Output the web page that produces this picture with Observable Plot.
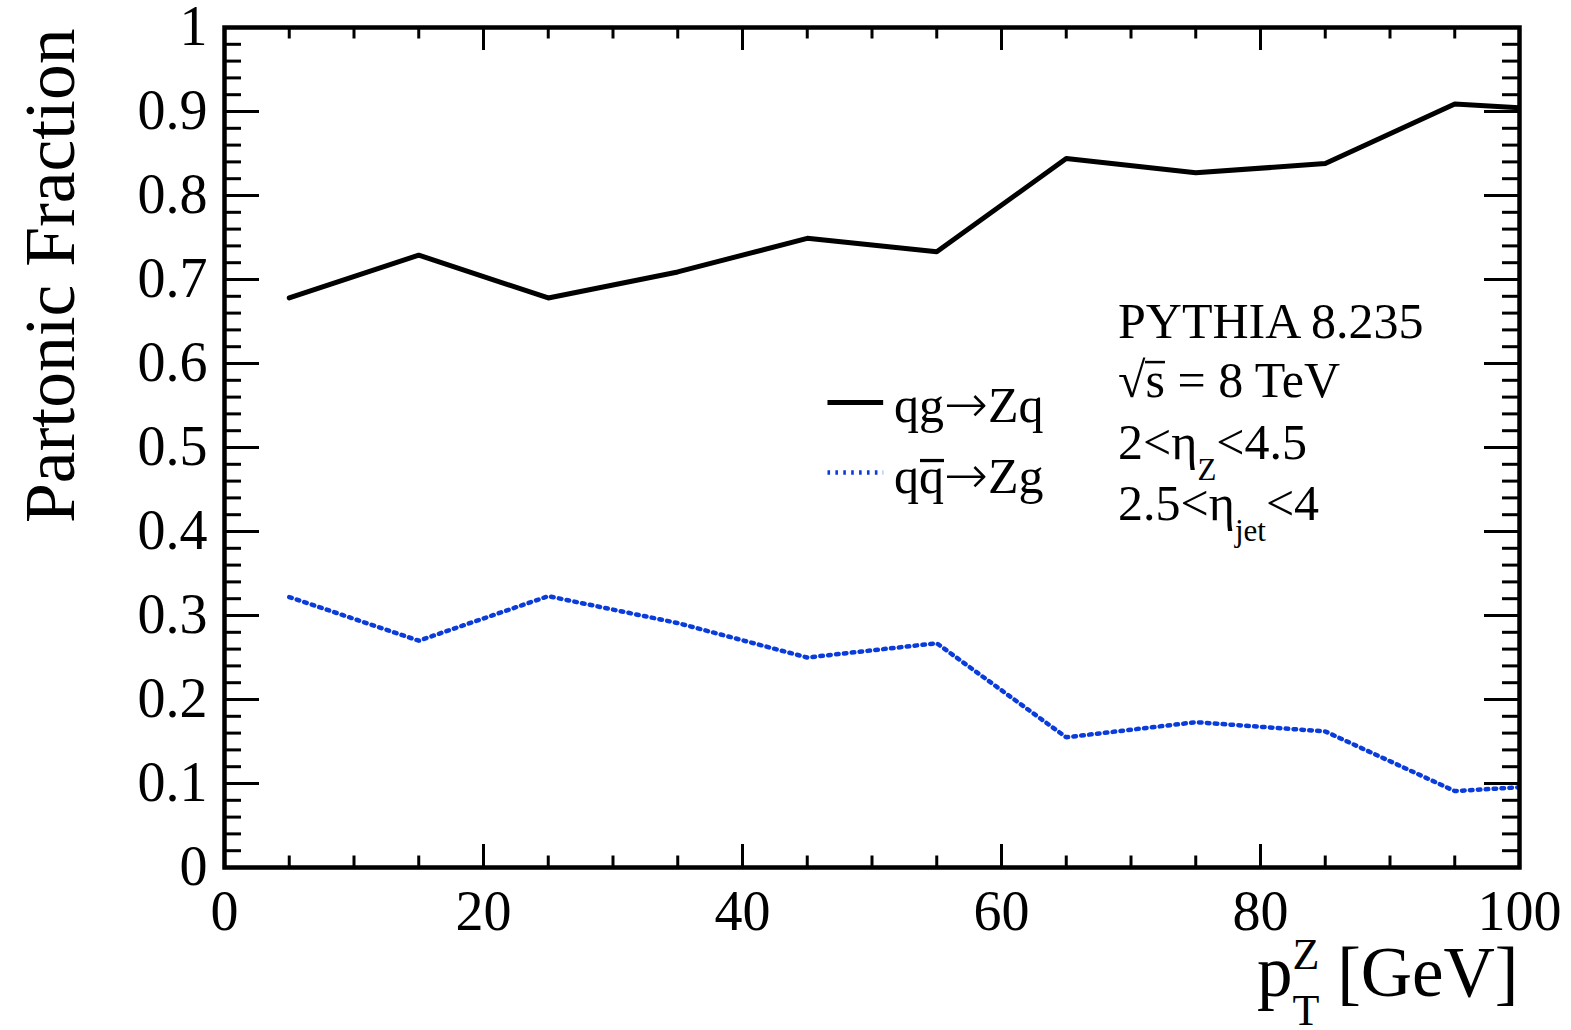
<!DOCTYPE html>
<html>
<head>
<meta charset="utf-8">
<script src="https://cdn.jsdelivr.net/npm/d3@7"></script>
<script src="https://cdn.jsdelivr.net/npm/@observablehq/plot@0.6"></script>
<style>
  html, body { margin: 0; padding: 0; background: #fff; }
  #chart svg { display: block; }
</style>
</head>
<body>
<div id="chart"></div>
<script>
// Partonic subprocess fractions of Z+jet production versus the Z transverse momentum.
const ptBinCenters   = [5, 15, 25, 35, 45, 55, 65, 75, 85, 95, 105];
const qgFraction     = [0.678, 0.729, 0.678, 0.709, 0.749, 0.733, 0.844, 0.827, 0.838, 0.909, 0.900];
const qqbarFraction  = [0.322, 0.270, 0.323, 0.291, 0.250, 0.267, 0.155, 0.173, 0.162, 0.091, 0.100];

const xMajorTicks = [0, 20, 40, 60, 80, 100];
const xTickLabels = ["0", "20", "40", "60", "80", "100"];
const xMinorTicks = [0, 5, 10, 15, 20, 25, 30, 35, 40, 45, 50, 55, 60, 65, 70, 75, 80, 85, 90, 95, 100];
const yMajorTicks = [0, 0.1, 0.2, 0.3, 0.4, 0.5, 0.6, 0.7, 0.8, 0.9, 1];
const yTickLabels = ["0", "0.1", "0.2", "0.3", "0.4", "0.5", "0.6", "0.7", "0.8", "0.9", "1"];
const yMinorTicks = [0, 0.02, 0.04, 0.06, 0.08, 0.1, 0.12, 0.14, 0.16, 0.18, 0.2, 0.22, 0.24, 0.26, 0.28,
  0.3, 0.32, 0.34, 0.36, 0.38, 0.4, 0.42, 0.44, 0.46, 0.48, 0.5, 0.52, 0.54, 0.56, 0.58, 0.6, 0.62, 0.64,
  0.66, 0.68, 0.7, 0.72, 0.74, 0.76, 0.78, 0.8, 0.82, 0.84, 0.86, 0.88, 0.9, 0.92, 0.94, 0.96, 0.98, 1];

const seriesNames  = ["qg→Zq", "qq̄→Zg"];
const legendLabels = ["qg→Zq", "q#bar{q}→Zg"];
const legendRowY   = [0.5536, 0.4702];
const infoLines    = ["PYTHIA 8.235", "#sqrt{s} = 8 TeV", "2<η_{Z}<4.5", "2.5<η_{jet}<4"];
const infoLineY    = [0.630, 0.560, 0.486, 0.414];

const xTitle = "p^{Z}_{T} [GeV]";
const yTitle = "Partonic Fraction";

// ---- layout ----
const W = 1571, H = 1030;
const M = {left: 224, right: 52, top: 27, bottom: 163};
const frameW = W - M.left - M.right;
const frameH = H - M.top - M.bottom;
const serif = "'Liberation Serif', 'Times New Roman', serif";
const blue = "#0a3cdc";
const dotted = "2.6,5.3";

const rows = ptBinCenters.flatMap((pt, i) => [
  {pt, frac: qgFraction[i], proc: seriesNames[0]},
  {pt, frac: qqbarFraction[i], proc: seriesNames[1]}
]);
const legendRows = legendLabels.map((label, i) => ({label, y: legendRowY[i], proc: seriesNames[i]}));
const legendX0 = 46.6, legendX1 = 50.9, legendTextX = 51.7;

const tickStyle = {stroke: "black", strokeWidth: 3};

const plot = Plot.plot({
  width: W, height: H,
  marginLeft: M.left, marginRight: M.right, marginTop: M.top, marginBottom: M.bottom,
  style: {fontFamily: serif, background: "white", color: "black"},
  x: {domain: [0, 100], axis: null},
  y: {domain: [0, 1], axis: null},
  marks: [
    // inward ticks on all four sides
    Plot.ruleX(xMinorTicks, {x: d => d, insetTop: frameH - 11.5, ...tickStyle}),
    Plot.ruleX(xMinorTicks, {x: d => d, insetBottom: frameH - 11.5, ...tickStyle}),
    Plot.ruleX(xMajorTicks, {x: d => d, insetTop: frameH - 23, ...tickStyle}),
    Plot.ruleX(xMajorTicks, {x: d => d, insetBottom: frameH - 23, ...tickStyle}),
    Plot.ruleY(yMinorTicks, {y: d => d, insetRight: frameW - 17, ...tickStyle}),
    Plot.ruleY(yMinorTicks, {y: d => d, insetLeft: frameW - 17, ...tickStyle}),
    Plot.ruleY(yMajorTicks, {y: d => d, insetRight: frameW - 35, ...tickStyle}),
    Plot.ruleY(yMajorTicks, {y: d => d, insetLeft: frameW - 35, ...tickStyle}),

    // series
    Plot.line(rows.filter(d => d.proc === seriesNames[0]), {
      x: "pt", y: "frac", stroke: "black", strokeWidth: 5, clip: true
    }),
    Plot.line(rows.filter(d => d.proc === seriesNames[1]), {
      x: "pt", y: "frac", stroke: blue, strokeWidth: 4.5, strokeDasharray: dotted, clip: true
    }),

    Plot.frame({stroke: "black", strokeWidth: 4.5}),

    // tick labels
    Plot.text(xMajorTicks, {
      x: d => d, frameAnchor: "bottom", text: (d, i) => xTickLabels[i],
      lineAnchor: "bottom", dy: 62, fontSize: 56, fill: "black"
    }),
    Plot.text(yMajorTicks, {
      y: d => d, frameAnchor: "left", text: (d, i) => yTickLabels[i],
      textAnchor: "end", lineAnchor: "middle", dx: -17, fontSize: 56, fill: "black"
    }),

    // axis titles
    Plot.text([xTitle], {
      frameAnchor: "bottom-right", text: d => d, textAnchor: "end", lineAnchor: "bottom",
      dx: -1, dy: 128, fontSize: 71, fill: "black"
    }),
    Plot.text([yTitle], {
      frameAnchor: "top-left", text: d => d, textAnchor: "end", lineAnchor: "bottom",
      rotate: -90, dx: -151, dy: 1, fontSize: 71.5, fill: "black"
    }),

    // legend
    Plot.ruleY(legendRows.filter(d => d.proc === seriesNames[0]), {
      y: "y", x1: legendX0, x2: legendX1, stroke: "black", strokeWidth: 5
    }),
    Plot.ruleY(legendRows.filter(d => d.proc === seriesNames[1]), {
      y: "y", x1: legendX0, x2: legendX1, stroke: blue, strokeWidth: 4.5, strokeDasharray: dotted
    }),
    Plot.text(legendRows, {
      x: legendTextX, y: "y", text: "label", textAnchor: "start", lineAnchor: "middle",
      dy: 4, fontSize: 50, fill: "black"
    }),

    // generator and kinematic selection
    Plot.text(infoLines, {
      x: 69, y: (d, i) => infoLineY[i], text: d => d, textAnchor: "start",
      lineAnchor: "bottom", fontSize: 50, fill: "black"
    })
  ]
});

document.getElementById("chart").appendChild(plot);

// Rich text: sub/superscripts, overbars, the radical and the arrow.
const SVGNS = "http://www.w3.org/2000/svg";
const SCRIPT = 0.62;
function richify(t) {
  const s = t.textContent;
  if (!/[_^]\{|#bar|#sqrt|→/.test(s)) return;
  const fs = parseFloat(getComputedStyle(t).fontSize);
  t.textContent = "";
  const parts = s.split(/([_^]\{[^}]*\}|#bar\{[^}]*\}|#sqrt\{[^}]*\}|→)/).filter(p => p !== "");
  let shift = 0, prev = null, prevKind = null;
  const bars = [];
  for (const p of parts) {
    let kind = "normal", target = 0, str = p;
    if (p.startsWith("^{")) { kind = "sup"; str = p.slice(2, -1); target = -0.38 * fs; }
    else if (p.startsWith("_{")) { kind = "sub"; str = p.slice(2, -1); target = 0.42 * fs; }
    else if (p.startsWith("#bar{")) { kind = "bar"; str = p.slice(5, -1); }
    else if (p.startsWith("#sqrt{")) { kind = "sqrt"; str = p.slice(6, -1); }
    else if (p === "→") { kind = "arrow"; }

    if (kind === "sqrt") {
      const root = document.createElementNS(SVGNS, "tspan");
      root.textContent = "√";
      if (target - shift !== 0) root.setAttribute("dy", target - shift);
      shift = target;
      t.appendChild(root);
    }
    const ts = document.createElementNS(SVGNS, "tspan");
    ts.textContent = str;
    if (kind === "sup" || kind === "sub") ts.setAttribute("font-size", SCRIPT * fs);
    if (kind === "arrow") {
      ts.setAttribute("font-family", "'DejaVu Sans', sans-serif");
      ts.setAttribute("font-size", 1.05 * fs);
      ts.setAttribute("font-weight", 200);
    }
    if (target - shift !== 0) ts.setAttribute("dy", target - shift);
    t.appendChild(ts);
    if (kind === "sub" && prevKind === "sup" && prev) {
      ts.setAttribute("dx", -prev.getComputedTextLength());
    }
    if (kind === "bar") bars.push({ts, lift: 0.64, width: 0.065, pad: 0.02});
    if (kind === "sqrt") bars.push({ts, lift: 0.70, width: 0.05, pad: -0.01});
    shift = target; prev = ts; prevKind = kind;
  }
  // overbars drawn as short rules in the text's own coordinate system
  for (const {ts, lift, width, pad} of bars) {
    const n = ts.getNumberOfChars();
    const a = ts.getStartPositionOfChar(0);
    const b = ts.getEndPositionOfChar(n - 1);
    const line = document.createElementNS(SVGNS, "line");
    line.setAttribute("x1", a.x + pad * fs);
    line.setAttribute("x2", b.x);
    line.setAttribute("y1", a.y - lift * fs);
    line.setAttribute("y2", a.y - lift * fs);
    line.setAttribute("stroke", "black");
    line.setAttribute("stroke-width", width * fs);
    const tr = t.getAttribute("transform");
    if (tr) line.setAttribute("transform", tr);
    t.parentNode.appendChild(line);
  }
}
plot.querySelectorAll("text").forEach(richify);
</script>
</body>
</html>
